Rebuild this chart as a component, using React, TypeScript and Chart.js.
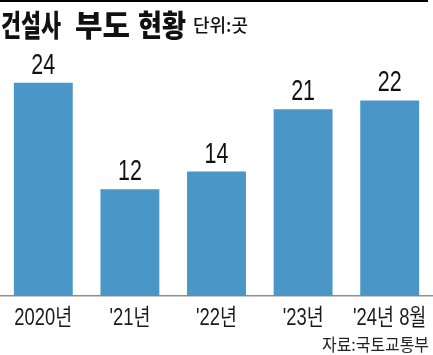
import React, { useEffect, useRef } from "react";
import { Chart, registerables } from "chart.js";

Chart.register(...registerables);

const categories = ["2020년", "'21년", "'22년", "'23년", "'24년 8월"];
const values = [24, 12, 14, 21, 22];
const titleWords = ["건설사", "부도", "현황"];
const unit = "단위:곳";
const source = "자료:국토교통부";

const LAT = "'Liberation Sans', 'Noto Sans CJK KR', sans-serif";
const KR = "'Noto Sans CJK KR', sans-serif";

function condensed(ctx: any, text: string, x: number, y: number, sx: number, align: string) {
  ctx.save();
  ctx.translate(x, y);
  ctx.scale(sx, 1);
  ctx.textAlign = align;
  ctx.fillText(text, 0, 0);
  ctx.restore();
}

export default function App() {
  const ref = useRef<HTMLCanvasElement | null>(null);
  useEffect(() => {
    const canvas = ref.current;
    if (!canvas) return;
    const deco = {
      id: "deco",
      afterDatasetsDraw(chart: any) {
        const ctx = chart.ctx;
        const meta = chart.getDatasetMeta(0);
        const xs = chart.scales.x;
        ctx.save();
        ctx.fillStyle = "#111";
        ctx.textBaseline = "alphabetic";
        ctx.font = `29px ${LAT}`;
        meta.data.forEach((bar: any, i: number) => {
          condensed(ctx, String(values[i]), bar.x, bar.y - 9, 0.74, "center");
        });
        ctx.font = `23px ${LAT}`;
        ctx.fillStyle = "#1a1a1a";
        categories.forEach((c, i) => {
          condensed(ctx, c, xs.getPixelForValue(i), 325, 0.8, "center");
        });
        ctx.restore();
      },
      afterDraw(chart: any) {
        const ctx = chart.ctx;
        ctx.save();
        ctx.fillStyle = "#000";
        ctx.fillRect(0, 0, 428, 2);
        ctx.textBaseline = "alphabetic";
        ctx.textAlign = "left";
        ctx.fillStyle = "#111";
        ctx.font = `900 30px ${KR}`;
        const pos = [[1, 60], [75, 55], [138, 48]];
        titleWords.forEach((w, i) => {
          ctx.fillText(w, pos[i][0], 36, pos[i][1]);
        });
        ctx.font = `500 18px ${KR}`;
        ctx.fillText(unit, 193, 32, 61);
        ctx.textAlign = "right";
        ctx.font = `17px ${KR}`;
        ctx.fillStyle = "#222";
        ctx.fillText(source, 429, 351, 107);
        ctx.restore();
      },
    };
    const chart = new Chart(canvas, {
      type: "bar",
      data: {
        labels: categories,
        datasets: [
          {
            data: values,
            backgroundColor: "#4a96c6",
            categoryPercentage: 0.68,
            barPercentage: 1,
          },
        ],
      },
      options: {
        animation: false,
        responsive: false,
        maintainAspectRatio: false,
        layout: { padding: { top: 56, bottom: 59, left: 0, right: 0 } },
        plugins: { legend: { display: false }, tooltip: { enabled: false } },
        scales: {
          x: {
            grid: { display: false, drawTicks: false },
            border: { display: true, color: "#8f8f8f", width: 1.5 },
            ticks: { display: false },
          },
          y: { display: false, min: 0, max: 27 },
        },
      },
      plugins: [deco],
    });
    return () => chart.destroy();
  }, []);
  return (
    <div style={{ position: "fixed", left: 0, top: 0, width: 433, height: 355, background: "#fff" }}>
      <canvas ref={ref} width={433} height={355} style={{ width: 433, height: 355 }} />
    </div>
  );
}
